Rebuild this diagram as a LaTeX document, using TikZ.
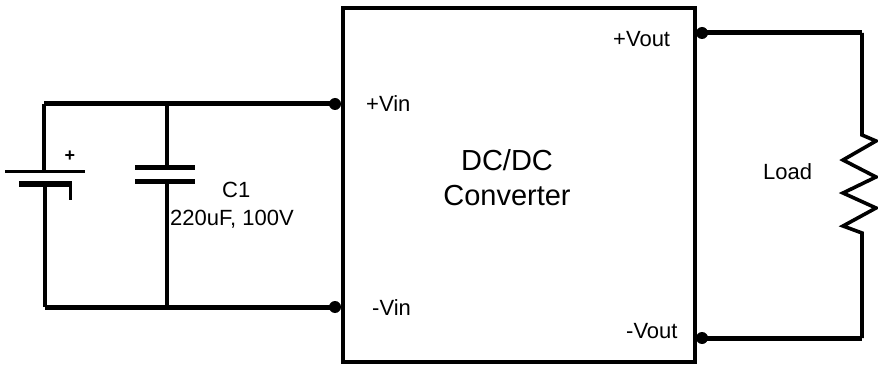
\documentclass[tikz,border=0pt]{standalone}
\usepackage{fontspec}
\setmainfont{Liberation Sans}
\begin{document}
\begin{tikzpicture}[x=1pt,y=-1pt,
  hwire/.style={line width=5pt},
  vwire/.style={line width=3.6pt},
  plate/.style={line width=5pt},
  dot/.style={circle,fill=black,inner sep=0pt,minimum size=12pt},
  lbl/.style={font=\fontsize{22}{24}\selectfont,inner sep=0pt,anchor=west},
  big/.style={font=\fontsize{29}{32}\selectfont,inner sep=0pt}]
\useasboundingbox (0,0) rectangle (878,366);
% converter box
\node[draw,line width=4pt,minimum width=352pt,minimum height=354pt,inner sep=0pt] (conv) at (519,185) {};
\node[big] (t1) at (507,160) {DC/DC};
\node[big] (t2) at (507,196) {Converter};
% terminals
\node[dot] (vinp) at (335,104) {};
\node[dot] (vinn) at (335,307) {};
\node[dot] (voutp) at (702,33) {};
\node[dot] (voutn) at (702,338) {};
\node[lbl] (lvinp) at (366,104) {+Vin};
\node[lbl] (lvinn) at (372,308) {-Vin};
\node[lbl] (lvoutp) at (613,39) {+Vout};
\node[lbl] (lvoutn) at (626,331) {-Vout};
% input side coordinates
\coordinate (tl) at (44,104);
\coordinate (bl) at (45,307);
\coordinate (ct) at (167,104);
\coordinate (cb) at (167,307);
\coordinate (bt) at (44,172);
\coordinate (bb) at (45,184);
\coordinate (cp1) at (167,168);
\coordinate (cp2) at (167,182);
% wires
\draw[hwire] (vinp.center) -- (tl);
\draw[hwire] (vinn.center) -- (bl);
\draw[vwire] (tl) -- (bt);
\draw[vwire] (bb) -- (bl);
\draw[vwire] (ct) -- (cp1);
\draw[vwire] (cp2) -- (cb);
% battery
\draw[line width=3pt] (5,172) -- (85,172);
\draw[line width=6pt] (19,184) -- (72,184);
\draw[line width=3pt] (70.5,184) -- (70.5,200);
\node[font=\fontsize{18}{18}\selectfont\bfseries,inner sep=0pt] (plus) at (70,156) {+};
% capacitor
\draw[plate] (135,168) -- (195,168);
\draw[plate] (135,182) -- (195,182);
\node[lbl] (c1) at (222,190) {C1};
\node[lbl] (c1v) at (170,219) {220uF, 100V};
% output side
\coordinate (rt) at (862,33);
\coordinate (rb) at (862,338);
\coordinate (rz1) at (862,135);
\coordinate (rz2) at (862,233);
\draw[hwire] (voutp.center) -- (rt);
\draw[hwire] (voutn.center) -- (rb);
\draw[vwire,line join=miter] (rt) -- (rz1) -- (876,141) -- (843,160) -- (876,177) -- (843,193) -- (876,208) -- (843,226) -- (rz2) -- (rb);
\node[lbl] (load) at (763,172) {Load};
\end{tikzpicture}
\end{document}
